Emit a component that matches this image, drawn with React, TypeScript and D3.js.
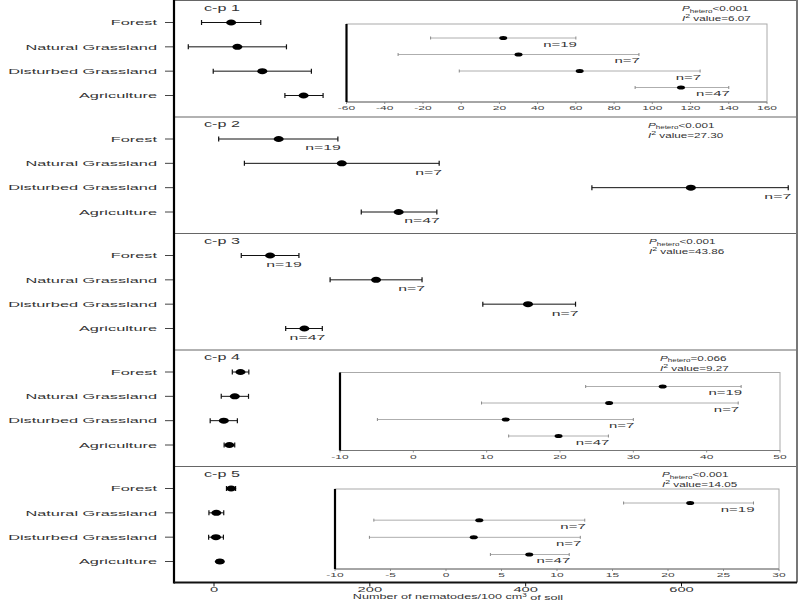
import * as d3 from 'd3';

const categories = ['Forest', 'Natural Grassland', 'Disturbed Grassland', 'Agriculture'];
const panels = ['c-p 1', 'c-p 2', 'c-p 3', 'c-p 4', 'c-p 5'];
const sampleSizes = [19, 7, 7, 47];

// mean and 95% CI per panel, in the category order above
const cp1Mean = [22, 30, 62, 115];
const cp1Lower = [-16, -33, -1, 91];
const cp1Upper = [60, 93, 125, 140];

const cp2Mean = [83, 164, 612, 237];
const cp2Lower = [6, 39, 485, 189];
const cp2Upper = [159, 289, 737, 286];

const cp3Mean = [72, 208, 403, 116];
const cp3Lower = [35, 149, 345, 92];
const cp3Upper = [109, 267, 464, 139];

const cp4Mean = [34, 26.7, 12.6, 19.8];
const cp4Lower = [23.5, 9.3, -4.9, 13];
const cp4Upper = [44.7, 44.3, 30, 26.6];

const cp5Mean = [22, 3, 2.5, 7.5];
const cp5Lower = [16, -6.5, -6.9, 4];
const cp5Upper = [27.7, 12.5, 12.1, 11.1];

const pHetero = ['<0.001', '<0.001', '<0.001', '=0.066', '<0.001'];
const i2Values = ['6.07', '27.30', '43.86', '9.27', '14.05'];

const mainTicks = [0, 200, 400, 600];
const cp1InsetTicks = [-60, -40, -20, 0, 20, 40, 60, 80, 100, 120, 140, 160];
const cp4InsetTicks = [-10, 0, 10, 20, 30, 40, 50];
const cp5InsetTicks = [-10, -5, 0, 5, 10, 15, 20, 25, 30];

const means = [cp1Mean, cp2Mean, cp3Mean, cp4Mean, cp5Mean];
const lowers = [cp1Lower, cp2Lower, cp3Lower, cp4Lower, cp5Lower];
const uppers = [cp1Upper, cp2Upper, cp3Upper, cp4Upper, cp5Upper];

// layout only
const W = 800;
const H = 600;
const left = 174;
const right = 797;
const bottom = 582.5;
const font = "'Liberation Sans', Arial, sans-serif";
const ink = '#333';

type Inset = { x0: number; x1: number; top: number; axis: number; domain: [number, number]; ticks: number[] };
const insets: (Inset | null)[] = [
  { x0: 346.5, x1: 767, top: 24, axis: 102, domain: [-60, 160], ticks: cp1InsetTicks },
  null,
  null,
  { x0: 340, x1: 780, top: 23, axis: 101, domain: [-10, 50], ticks: cp4InsetTicks },
  { x0: 335, x1: 779, top: 23, axis: 103, domain: [-10, 30], ticks: cp5InsetTicks },
];
const statsX = [682, 648, 649, 660, 662];

function SText({ x, y, sx = 2.1, size = 8, anchor = 'start', fill = ink, children }: any) {
  return (
    <text
      transform={`translate(${x},${y}) scale(${sx},1)`}
      fontSize={size}
      textAnchor={anchor}
      dominantBaseline="central"
      fill={fill}
      fontFamily={font}
    >
      {children}
    </text>
  );
}

export default function App() {
  const x = d3.scaleLinear().domain([0, 600]).range([214, 681.5]);
  const band = d3.scaleBand<string>().domain(panels).range([0, bottom]);

  return (
    <svg width={W} height={H} style={{ position: 'absolute', left: 0, top: 0, background: '#fff' }}>
      {panels.map((p, pi) => {
        const top = band(p)!;
        const y = d3
          .scalePoint<string>()
          .domain(categories)
          .range([top + 22.5, top + 95.5]);
        const inset = insets[pi];
        const showN = !inset;
        return (
          <g key={p}>
            {/* panel frame */}
            <line x1={left} x2={right} y1={top + 0.5} y2={top + 0.5} stroke="#666" strokeWidth={1.2} />
            <SText x={204} y={top + 8} size={8.5} sx={1.9}>{p}</SText>

            {/* category axis */}
            {categories.map((c) => (
              <g key={c}>
                <line x1={165} x2={left} y1={y(c)} y2={y(c)} stroke="#444" strokeWidth={1} />
                <SText x={157} y={y(c)} anchor="end" size={7.6} sx={2.15}>{c}</SText>
              </g>
            ))}

            {/* main intervals */}
            {categories.map((c, i) => {
              const yy = y(c)!;
              const lo = x(lowers[pi][i]);
              const hi = x(uppers[pi][i]);
              return (
                <g key={c}>
                  <line x1={lo} x2={hi} y1={yy} y2={yy} stroke="#111" strokeWidth={1} />
                  <line x1={lo} x2={lo} y1={yy - 2.5} y2={yy + 2.5} stroke="#111" strokeWidth={1.2} />
                  <line x1={hi} x2={hi} y1={yy - 2.5} y2={yy + 2.5} stroke="#111" strokeWidth={1.2} />
                  <ellipse cx={x(means[pi][i])} cy={yy} rx={5} ry={3} fill="#000" />
                  {showN && (
                    <SText x={hi + 3} y={yy + 9} anchor="end" size={7.2} sx={2.2}>
                      n={sampleSizes[i]}
                    </SText>
                  )}
                </g>
              );
            })}

            {inset && <InsetPlot inset={inset} top={top} pi={pi} />}

            <text
              transform={`translate(${statsX[pi]},${top + 8.5}) scale(1.6,1)`}
              fontSize={7.3}
              fontFamily={font}
              fill={ink}
              dominantBaseline="central"
            >
              <tspan fontStyle="italic">P</tspan>
              <tspan fontSize={5} dy={2}>hetero</tspan>
              <tspan dy={-2}>{pHetero[pi]}</tspan>
            </text>
            <text
              transform={`translate(${statsX[pi]},${top + 18.5}) scale(1.6,1)`}
              fontSize={7.3}
              fontFamily={font}
              fill={ink}
              dominantBaseline="central"
            >
              <tspan fontStyle="italic">I</tspan>
              <tspan fontSize={5.5} dy={-2.5}>2</tspan>
              <tspan dy={2.5}> value={i2Values[pi]}</tspan>
            </text>
          </g>
        );
      })}

      {/* outer frame */}
      <line x1={right} x2={right} y1={0} y2={bottom} stroke="#777" strokeWidth={2} />
      <line x1={left} x2={left} y1={0} y2={bottom + 1} stroke="#000" strokeWidth={2.2} />
      <line x1={left} x2={right} y1={bottom} y2={bottom} stroke="#111" strokeWidth={1.8} />

      {/* bottom axis */}
      {mainTicks.map((t) => (
        <g key={t}>
          <line x1={x(t)} x2={x(t)} y1={bottom} y2={bottom + 4} stroke="#111" strokeWidth={1} />
          <SText x={x(t)} y={bottom + 7.5} anchor="middle" size={7} sx={2.1}>{t}</SText>
        </g>
      ))}
      <text
        transform={`translate(458,${bottom + 14.5}) scale(1.8,1)`}
        fontSize={7}
        textAnchor="middle"
        dominantBaseline="central"
        fontFamily={font}
        fill={ink}
      >
        Number of nematodes/100 cm<tspan fontSize={4.5} dy={-2.5}>3</tspan>
        <tspan dy={2.5}> of soil</tspan>
      </text>
    </svg>
  );
}

function InsetPlot({ inset, top, pi }: { inset: Inset; top: number; pi: number }) {
  const ix = d3.scaleLinear().domain(inset.domain).range([inset.x0, inset.x1]);
  const t0 = top + inset.top;
  const a0 = top + inset.axis;
  const iy = d3
    .scalePoint<string>()
    .domain(categories)
    .range([t0 + 14, a0 - 14.5]);
  return (
    <g>
      <rect x={inset.x0} y={t0} width={inset.x1 - inset.x0} height={a0 - t0} fill="none" stroke="#aaa" strokeWidth={1} />
      <line x1={inset.x0} x2={inset.x1} y1={a0} y2={a0} stroke="#777" strokeWidth={1} />
      <line x1={inset.x0} x2={inset.x0} y1={t0} y2={a0} stroke="#000" strokeWidth={2.2} />
      {inset.ticks.map((t) => (
        <g key={t}>
          <line x1={ix(t)} x2={ix(t)} y1={a0} y2={a0 + 2} stroke="#777" strokeWidth={0.8} />
          <SText x={ix(t)} y={a0 + 6} anchor="middle" size={6} sx={2} fill="#444">{t}</SText>
        </g>
      ))}
      {categories.map((c, i) => {
        const yy = iy(c)!;
        const lo = ix(lowers[pi][i]);
        const hi = ix(uppers[pi][i]);
        return (
          <g key={c}>
            <line x1={lo} x2={hi} y1={yy} y2={yy} stroke="#999" strokeWidth={0.8} />
            <line x1={lo} x2={lo} y1={yy - 1.5} y2={yy + 1.5} stroke="#888" strokeWidth={1} />
            <line x1={hi} x2={hi} y1={yy - 1.5} y2={yy + 1.5} stroke="#888" strokeWidth={1} />
            <ellipse cx={ix(means[pi][i])} cy={yy} rx={4} ry={2} fill="#000" />
            <SText x={hi + 1} y={yy + 6} anchor="end" size={6.8} sx={2.2}>
              n={sampleSizes[i]}
            </SText>
          </g>
        );
      })}
    </g>
  );
}
